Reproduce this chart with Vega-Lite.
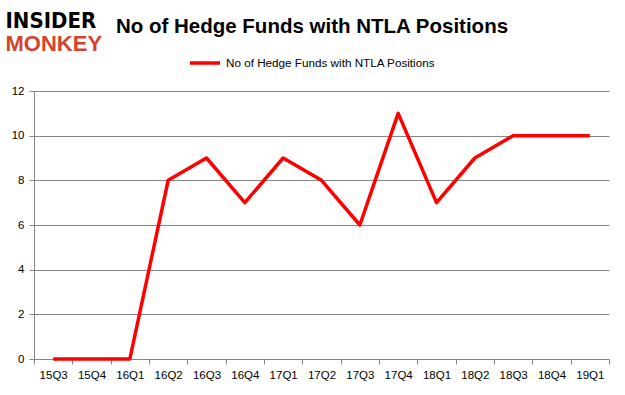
{
  "$schema": "https://vega.github.io/schema/vega-lite/v6.json",
  "width": 575,
  "height": 268,
  "autosize": {"type": "none"},
  "padding": {"left": 34, "top": 91, "right": 16, "bottom": 36},
  "background": "white",
  "config": {"view": {"stroke": null}},
  "title": {
    "text": "No of Hedge Funds with NTLA Positions",
    "font": "Liberation Sans",
    "fontSize": 20.5,
    "fontWeight": "bold",
    "color": "#000000",
    "anchor": "middle",
    "frame": "group",
    "baseline": "alphabetic",
    "offset": -44.5,
    "dx": -9.5
  },
  "data": {
    "values": [
      {"quarter": "15Q3", "funds": 0, "series": "No of Hedge Funds with NTLA Positions"},
      {"quarter": "15Q4", "funds": 0, "series": "No of Hedge Funds with NTLA Positions"},
      {"quarter": "16Q1", "funds": 0, "series": "No of Hedge Funds with NTLA Positions"},
      {"quarter": "16Q2", "funds": 8, "series": "No of Hedge Funds with NTLA Positions"},
      {"quarter": "16Q3", "funds": 9, "series": "No of Hedge Funds with NTLA Positions"},
      {"quarter": "16Q4", "funds": 7, "series": "No of Hedge Funds with NTLA Positions"},
      {"quarter": "17Q1", "funds": 9, "series": "No of Hedge Funds with NTLA Positions"},
      {"quarter": "17Q2", "funds": 8, "series": "No of Hedge Funds with NTLA Positions"},
      {"quarter": "17Q3", "funds": 6, "series": "No of Hedge Funds with NTLA Positions"},
      {"quarter": "17Q4", "funds": 11, "series": "No of Hedge Funds with NTLA Positions"},
      {"quarter": "18Q1", "funds": 7, "series": "No of Hedge Funds with NTLA Positions"},
      {"quarter": "18Q2", "funds": 9, "series": "No of Hedge Funds with NTLA Positions"},
      {"quarter": "18Q3", "funds": 10, "series": "No of Hedge Funds with NTLA Positions"},
      {"quarter": "18Q4", "funds": 10, "series": "No of Hedge Funds with NTLA Positions"},
      {"quarter": "19Q1", "funds": 10, "series": "No of Hedge Funds with NTLA Positions"}
    ]
  },
  "mark": {"type": "line", "color": "#ff0000", "strokeWidth": 3.5, "strokeJoin": "round"},
  "encoding": {
    "x": {
      "field": "quarter",
      "type": "ordinal",
      "sort": null,
      "scale": {"type": "band", "paddingInner": 0, "paddingOuter": 0},
      "axis": {
        "title": "MONKEY",
        "titleColor": "#d5432f",
        "titleFont": "Liberation Sans",
        "titleFontSize": 22,
        "titleFontWeight": "bold",
        "titleX": -29,
        "titleY": -309,
        "titleAlign": "left",
        "titleBaseline": "alphabetic",
        "titleAngle": 0,
        "labelAngle": 0,
        "tickBand": "extent",
        "grid": false,
        "tickSize": 5,
        "tickColor": "#868686",
        "domainColor": "#868686",
        "labelPadding": 5,
        "labelFont": "Liberation Sans",
        "labelFontSize": 11.5,
        "labelColor": "#000000"
      }
    },
    "y": {
      "field": "funds",
      "type": "quantitative",
      "scale": {"domain": [0, 12], "nice": false},
      "axis": {
        "values": [0, 2, 4, 6, 8, 10, 12],
        "title": "INSIDER",
        "titleColor": "#000000",
        "titleFont": "Liberation Sans Narrow, DejaVu Sans Condensed, sans-serif",
        "titleFontSize": 22,
        "titleFontWeight": "bold",
        "titleAngle": 0,
        "titleX": -29,
        "titleY": -64,
        "titleAlign": "left",
        "titleBaseline": "alphabetic",
        "grid": true,
        "gridColor": "#868686",
        "gridWidth": 1,
        "tickSize": 5,
        "tickColor": "#868686",
        "domainColor": "#868686",
        "labelPadding": 5,
        "labelFont": "Liberation Sans",
        "labelFontSize": 11.5,
        "labelColor": "#000000"
      }
    },
    "color": {
      "field": "series",
      "type": "nominal",
      "scale": {"range": ["#ff0000"]},
      "legend": {
        "orient": "none",
        "legendX": 154,
        "legendY": -45,
        "title": null,
        "direction": "horizontal",
        "symbolType": "stroke",
        "symbolStrokeWidth": 3.5,
        "symbolSize": 900,
        "labelFont": "Liberation Sans",
        "labelFontSize": 11.7,
        "labelColor": "#000000",
        "labelOffset": 4,
        "labelLimit": 0,
        "padding": 0
      }
    }
  }
}
